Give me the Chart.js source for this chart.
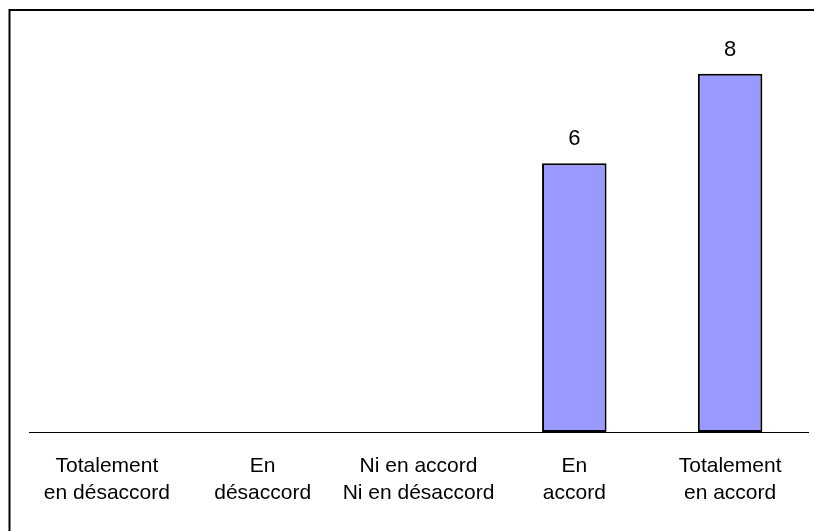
<!DOCTYPE html>
<html>
<head>
<meta charset="utf-8">
<script src="https://cdn.jsdelivr.net/npm/chart.js@4/dist/chart.umd.min.js"></script>
<style>
  html, body { margin: 0; padding: 0; background: #fff; }
  #wrap { width: 814px; height: 531px; }
</style>
</head>
<body>
<div id="wrap"><canvas id="c" width="814" height="531"></canvas></div>
<script>
// Answer categories (two-line labels) and response counts
const categories = [
  ["Totalement", "en désaccord"],
  ["En", "désaccord"],
  ["Ni en accord", "Ni en désaccord"],
  ["En", "accord"],
  ["Totalement", "en accord"]
];
const counts = [0, 0, 0, 6, 8];
const yMax = 9;

const FONT = '"Liberation Sans", Arial, Helvetica, sans-serif';

// Open frame along the top and left edges
const framePlugin = {
  id: 'frame',
  beforeDraw(chart) {
    const ctx = chart.ctx;
    ctx.save();
    ctx.fillStyle = '#fff';
    ctx.fillRect(0, 0, chart.width, chart.height);
    ctx.strokeStyle = '#000';
    ctx.lineWidth = 2;
    ctx.beginPath();
    ctx.moveTo(9.5, chart.height + 2);
    ctx.lineTo(9.5, 10);
    ctx.lineTo(chart.width + 2, 10);
    ctx.stroke();
    ctx.restore();
  }
};

// Count printed above each non-empty bar
const valueLabels = {
  id: 'valueLabels',
  afterDatasetsDraw(chart) {
    const ctx = chart.ctx;
    const meta = chart.getDatasetMeta(0);
    ctx.save();
    ctx.fillStyle = '#000';
    ctx.font = '22px ' + FONT;
    ctx.textAlign = 'center';
    ctx.textBaseline = 'alphabetic';
    meta.data.forEach((bar, i) => {
      const v = counts[i];
      if (!v) return;
      ctx.fillText(String(v), bar.x, bar.y - 18);
    });
    ctx.restore();
  }
};

new Chart(document.getElementById('c'), {
  type: 'bar',
  data: {
    labels: categories,
    datasets: [{
      data: counts,
      backgroundColor: '#9999FF',
      borderColor: '#000',
      borderWidth: 2,
      borderSkipped: false,
      barPercentage: 0.414,
      categoryPercentage: 1.0
    }]
  },
  options: {
    responsive: false,
    animation: false,
    devicePixelRatio: 1,
    layout: { padding: { left: 29, right: 6, top: 29, bottom: 0 } },
    plugins: {
      legend: { display: false },
      tooltip: { enabled: false }
    },
    scales: {
      x: {
        grid: { display: false, drawTicks: false },
        border: { display: true, color: '#000', width: 1 },
        ticks: {
          color: '#000',
          padding: 21,
          maxRotation: 0,
          autoSkip: false,
          font: { family: FONT, size: 21, lineHeight: 1.28 }
        },
        afterFit(scale) { scale.height = 99; }
      },
      y: {
        display: false,
        min: 0,
        max: yMax
      }
    }
  },
  plugins: [framePlugin, valueLabels]
});
</script>
</body>
</html>
